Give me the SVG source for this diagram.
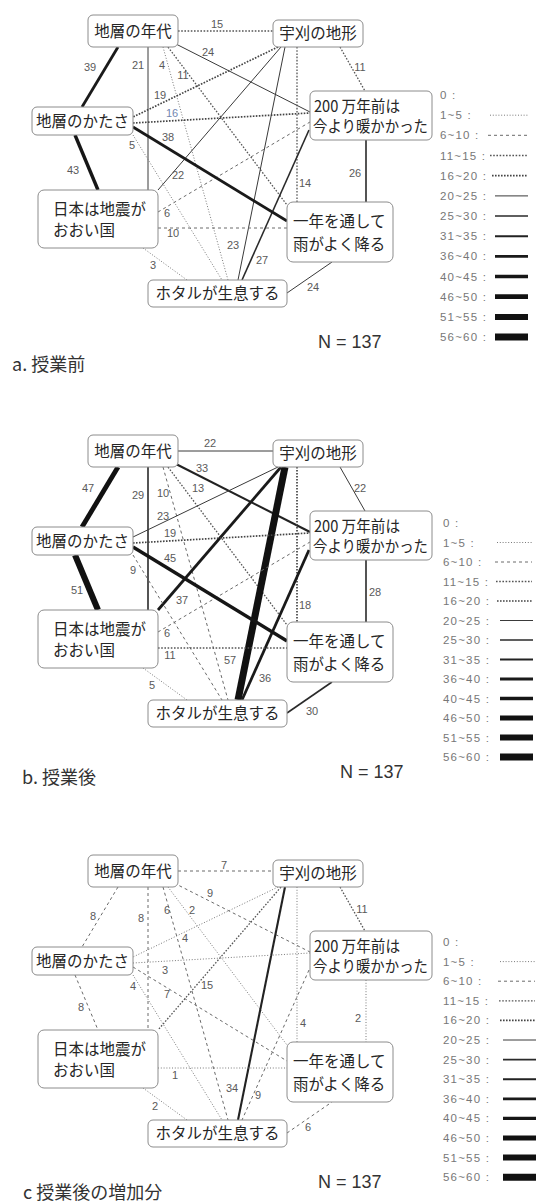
<svg xmlns="http://www.w3.org/2000/svg" width="537" height="1202" viewBox="0 0 537 1202">
<style>
.bg{fill:#fff}
.box{fill:#fff;stroke:#8c8c8c;stroke-width:1}
.nt{font-family:"Noto Sans CJK JP","Noto Sans",sans-serif;font-size:15.5px;fill:#262626}
.el{font-family:"Liberation Sans","Noto Sans",sans-serif;font-size:11px;fill:#5a5a5a;text-anchor:middle}
.blue{fill:#7186b0}
.lg{font-family:"Liberation Sans","Noto Sans",sans-serif;font-size:11.5px;fill:#777;letter-spacing:1.2px}
.cap{font-family:"Noto Sans CJK JP","Noto Sans",sans-serif;font-size:18px;fill:#333}
.nn{font-family:"Liberation Sans","Noto Sans",sans-serif;font-size:18px;fill:#333}
line{fill:none}
.w1{stroke:#7a7a7a;stroke-width:1;stroke-dasharray:1 1.8}
.w2{stroke:#6a6a6a;stroke-width:1;stroke-dasharray:3 3}
.w3{stroke:#555;stroke-width:1.3;stroke-dasharray:1.6 1.6}
.w4{stroke:#444;stroke-width:1.7;stroke-dasharray:1.6 1.4}
.w5{stroke:#3a3a3a;stroke-width:1}
.w6{stroke:#2a2a2a;stroke-width:1.6}
.w7{stroke:#222;stroke-width:2.1}
.w8{stroke:#1a1a1a;stroke-width:2.8}
.w9{stroke:#161616;stroke-width:3.4}
.w10{stroke:#111;stroke-width:4.8}
.w11{stroke:#111;stroke-width:6}
.w12{stroke:#111;stroke-width:7}
</style>
<rect class="bg" x="0" y="0" width="537" height="1202"/>

<!-- ================= PANEL A ================= -->
<g id="panel-a">
<g id="a-connectors">
<line class="w3" x1="178" y1="31" x2="273" y2="31"/>
<line class="w5" x1="174" y1="43" x2="310" y2="112"/>
<line class="w8" x1="118" y1="47" x2="82" y2="107"/>
<line class="w5" x1="148" y1="47" x2="148" y2="190"/>
<line class="w1" x1="163" y1="47" x2="228" y2="280"/>
<line class="w3" x1="168" y1="47" x2="287" y2="205"/>
<line class="w3" x1="340" y1="47" x2="365" y2="91"/>
<line class="w4" x1="278" y1="47" x2="133" y2="117"/>
<line class="w5" x1="281" y1="47" x2="158" y2="190"/>
<line class="w5" x1="285" y1="47" x2="238" y2="280"/>
<line class="w3" x1="297" y1="47" x2="297" y2="202"/>
<line class="w4" x1="133" y1="123" x2="310" y2="113"/>
<line class="w2" x1="158" y1="212" x2="310" y2="122"/>
<line class="w6" x1="309" y1="130" x2="242" y2="280"/>
<line class="w6" x1="366" y1="140" x2="366" y2="202"/>
<line class="w9" x1="75" y1="135" x2="98" y2="190"/>
<line class="w1" x1="133" y1="135" x2="222" y2="280"/>
<line class="w8" x1="133" y1="127" x2="287" y2="221"/>
<line class="w1" x1="143" y1="248" x2="187" y2="280"/>
<line class="w2" x1="158" y1="228" x2="287" y2="228"/>
<line class="w5" x1="287" y1="293" x2="332" y2="262"/>
</g>
<g id="a-edge-labels">
<text class="el" x="217" y="28">15</text>
<text class="el" x="208" y="56">24</text>
<text class="el" x="90" y="71">39</text>
<text class="el" x="138" y="69">21</text>
<text class="el" x="162" y="69">4</text>
<text class="el" x="183" y="79">11</text>
<text class="el" x="360" y="71">11</text>
<text class="el" x="160" y="99">19</text>
<text class="el blue" x="172" y="117">16</text>
<text class="el" x="168" y="141">38</text>
<text class="el" x="132" y="149">5</text>
<text class="el" x="73" y="174">43</text>
<text class="el" x="178" y="179">22</text>
<text class="el" x="355" y="177">26</text>
<text class="el" x="305" y="187">14</text>
<text class="el" x="167" y="217">6</text>
<text class="el" x="173" y="237">10</text>
<text class="el" x="233" y="249">23</text>
<text class="el" x="262" y="264">27</text>
<text class="el" x="153" y="269">3</text>
<text class="el" x="313" y="291">24</text>
</g>
<g id="a-n-nendai"><rect class="box" x="88" y="15" width="90" height="32" rx="5"/><text class="nt" x="133" y="36.5" text-anchor="middle">地層の年代</text></g>
<g id="a-n-ukari"><rect class="box" x="273" y="20" width="90" height="27" rx="5"/><text class="nt" x="318" y="39" text-anchor="middle">宇刈の地形</text></g>
<g id="a-n-200"><rect class="box" x="310" y="91" width="122" height="49" rx="5"/><text class="nt" x="314" y="112" textLength="86" lengthAdjust="spacingAndGlyphs">200 万年前は</text><text class="nt" x="313" y="132" textLength="115" lengthAdjust="spacingAndGlyphs">今より暖かかった</text></g>
<g id="a-n-katasa"><rect class="box" x="32" y="107" width="101" height="28" rx="5"/><text class="nt" x="82.5" y="127" text-anchor="middle">地層のかたさ</text></g>
<g id="a-n-jishin"><rect class="box" x="38" y="190" width="120" height="58" rx="6"/><text class="nt" x="53" y="215">日本は地震が</text><text class="nt" x="53" y="236">おおい国</text></g>
<g id="a-n-ame"><rect class="box" x="287" y="202" width="106" height="60" rx="6"/><text class="nt" x="293" y="227">一年を通して</text><text class="nt" x="293" y="249.5">雨がよく降る</text></g>
<g id="a-n-hotaru"><rect class="box" x="148" y="280" width="139" height="27" rx="5"/><text class="nt" x="217.5" y="299" text-anchor="middle">ホタルが生息する</text></g>
</g>
<text class="nn" x="318" y="348">N = 137</text>
<text class="cap" x="12" y="371">a. 授業前</text>
<g id="a-legend">
<g transform="translate(440,95)"><text class="lg" y="4">0 :</text></g>
<g transform="translate(440,115.2)"><text class="lg" y="4">1~5 :</text><line class="w1" x1="50" x2="88"/></g>
<g transform="translate(440,135.3)"><text class="lg" y="4">6~10 :</text><line class="w2" x1="48" x2="88"/></g>
<g transform="translate(440,155.5)"><text class="lg" y="4">11~15 :</text><line class="w3" x1="50" x2="88"/></g>
<g transform="translate(440,175.7)"><text class="lg" y="4">16~20 :</text><line class="w4" x1="52" x2="88"/></g>
<g transform="translate(440,195.9)"><text class="lg" y="4">20~25 :</text><line class="w5" x1="55" x2="88"/></g>
<g transform="translate(440,216)"><text class="lg" y="4">25~30 :</text><line class="w6" x1="55" x2="88"/></g>
<g transform="translate(440,236.2)"><text class="lg" y="4">31~35 :</text><line class="w7" x1="55" x2="88"/></g>
<g transform="translate(440,256.4)"><text class="lg" y="4">36~40 :</text><line class="w8" x1="55" x2="88"/></g>
<g transform="translate(440,276.5)"><text class="lg" y="4">40~45 :</text><line class="w9" x1="55" x2="88"/></g>
<g transform="translate(440,296.7)"><text class="lg" y="4">46~50 :</text><line class="w10" x1="55" x2="88"/></g>
<g transform="translate(440,316.9)"><text class="lg" y="4">51~55 :</text><line class="w11" x1="55" x2="88"/></g>
<g transform="translate(440,337)"><text class="lg" y="4">56~60 :</text><line class="w12" x1="55" x2="88"/></g>
</g>

<!-- ================= PANEL B ================= -->
<g id="panel-b" transform="translate(0,420)">
<g id="b-connectors">
<line class="w5" x1="178" y1="31" x2="273" y2="31"/>
<line class="w7" x1="174" y1="43" x2="310" y2="112"/>
<line class="w10" x1="118" y1="47" x2="82" y2="107"/>
<line class="w6" x1="148" y1="47" x2="148" y2="190"/>
<line class="w2" x1="163" y1="47" x2="228" y2="280"/>
<line class="w3" x1="168" y1="47" x2="287" y2="205"/>
<line class="w5" x1="340" y1="47" x2="365" y2="91"/>
<line class="w5" x1="278" y1="47" x2="133" y2="117"/>
<line class="w8" x1="281" y1="47" x2="158" y2="190"/>
<line class="w12" x1="285" y1="47" x2="238" y2="280"/>
<line class="w4" x1="297" y1="47" x2="297" y2="202"/>
<line class="w4" x1="133" y1="123" x2="310" y2="113"/>
<line class="w2" x1="158" y1="212" x2="310" y2="122"/>
<line class="w8" x1="309" y1="130" x2="242" y2="280"/>
<line class="w6" x1="366" y1="140" x2="366" y2="202"/>
<line class="w11" x1="75" y1="135" x2="98" y2="190"/>
<line class="w2" x1="133" y1="135" x2="222" y2="280"/>
<line class="w9" x1="133" y1="127" x2="287" y2="221"/>
<line class="w1" x1="143" y1="248" x2="187" y2="280"/>
<line class="w3" x1="158" y1="228" x2="287" y2="228"/>
<line class="w6" x1="287" y1="293" x2="332" y2="262"/>
</g>
<g id="b-edge-labels">
<text class="el" x="210" y="27">22</text>
<text class="el" x="202" y="52">33</text>
<text class="el" x="88" y="72">47</text>
<text class="el" x="138" y="79">29</text>
<text class="el" x="163" y="77">10</text>
<text class="el" x="198" y="72">13</text>
<text class="el" x="360" y="72">22</text>
<text class="el" x="163" y="100">23</text>
<text class="el" x="170" y="117">19</text>
<text class="el" x="170" y="142">45</text>
<text class="el" x="133" y="154">9</text>
<text class="el" x="77" y="174">51</text>
<text class="el" x="375" y="176">28</text>
<text class="el" x="182" y="184">37</text>
<text class="el" x="305" y="189">18</text>
<text class="el" x="167" y="217">6</text>
<text class="el" x="170" y="239">11</text>
<text class="el" x="230" y="244">57</text>
<text class="el" x="265" y="262">36</text>
<text class="el" x="152" y="269">5</text>
<text class="el" x="312" y="295">30</text>
</g>
<g id="b-n-nendai"><rect class="box" x="88" y="15" width="90" height="32" rx="5"/><text class="nt" x="133" y="36.5" text-anchor="middle">地層の年代</text></g>
<g id="b-n-ukari"><rect class="box" x="273" y="20" width="90" height="27" rx="5"/><text class="nt" x="318" y="39" text-anchor="middle">宇刈の地形</text></g>
<g id="b-n-200"><rect class="box" x="310" y="91" width="122" height="49" rx="5"/><text class="nt" x="314" y="112" textLength="86" lengthAdjust="spacingAndGlyphs">200 万年前は</text><text class="nt" x="313" y="132" textLength="115" lengthAdjust="spacingAndGlyphs">今より暖かかった</text></g>
<g id="b-n-katasa"><rect class="box" x="32" y="107" width="101" height="28" rx="5"/><text class="nt" x="82.5" y="127" text-anchor="middle">地層のかたさ</text></g>
<g id="b-n-jishin"><rect class="box" x="38" y="190" width="120" height="58" rx="6"/><text class="nt" x="53" y="215">日本は地震が</text><text class="nt" x="53" y="236">おおい国</text></g>
<g id="b-n-ame"><rect class="box" x="287" y="202" width="106" height="60" rx="6"/><text class="nt" x="293" y="227">一年を通して</text><text class="nt" x="293" y="249.5">雨がよく降る</text></g>
<g id="b-n-hotaru"><rect class="box" x="148" y="280" width="139" height="27" rx="5"/><text class="nt" x="217.5" y="299" text-anchor="middle">ホタルが生息する</text></g>
</g>
<text class="nn" x="340" y="778">N = 137</text>
<text class="cap" x="22" y="784">b. 授業後</text>
<g id="b-legend">
<g transform="translate(443,523)"><text class="lg" y="4">0 :</text></g>
<g transform="translate(443,542.5)"><text class="lg" y="4">1~5 :</text><line class="w1" x1="54" x2="89"/></g>
<g transform="translate(443,562)"><text class="lg" y="4">6~10 :</text><line class="w2" x1="52" x2="89"/></g>
<g transform="translate(443,581.5)"><text class="lg" y="4">11~15 :</text><line class="w3" x1="53" x2="89"/></g>
<g transform="translate(443,601)"><text class="lg" y="4">16~20 :</text><line class="w4" x1="54" x2="89"/></g>
<g transform="translate(443,620.5)"><text class="lg" y="4">20~25 :</text><line class="w5" x1="57" x2="90"/></g>
<g transform="translate(443,640)"><text class="lg" y="4">25~30 :</text><line class="w6" x1="57" x2="90"/></g>
<g transform="translate(443,659.5)"><text class="lg" y="4">31~35 :</text><line class="w7" x1="57" x2="90"/></g>
<g transform="translate(443,679)"><text class="lg" y="4">36~40 :</text><line class="w8" x1="57" x2="90"/></g>
<g transform="translate(443,698.5)"><text class="lg" y="4">40~45 :</text><line class="w9" x1="57" x2="90"/></g>
<g transform="translate(443,718)"><text class="lg" y="4">46~50 :</text><line class="w10" x1="57" x2="90"/></g>
<g transform="translate(443,737.5)"><text class="lg" y="4">51~55 :</text><line class="w11" x1="57" x2="90"/></g>
<g transform="translate(443,757)"><text class="lg" y="4">56~60 :</text><line class="w12" x1="57" x2="90"/></g>
</g>

<!-- ================= PANEL C ================= -->
<g id="panel-c" transform="translate(0,840)">
<g id="c-connectors">
<line class="w2" x1="178" y1="31" x2="273" y2="31"/>
<line class="w2" x1="174" y1="43" x2="310" y2="112"/>
<line class="w2" x1="118" y1="47" x2="82" y2="107"/>
<line class="w2" x1="148" y1="47" x2="148" y2="190"/>
<line class="w2" x1="163" y1="47" x2="228" y2="280"/>
<line class="w1" x1="168" y1="47" x2="287" y2="205"/>
<line class="w3" x1="340" y1="47" x2="365" y2="91"/>
<line class="w1" x1="278" y1="47" x2="133" y2="117"/>
<line class="w3" x1="281" y1="47" x2="158" y2="190"/>
<line class="w7" x1="285" y1="47" x2="238" y2="280"/>
<line class="w1" x1="297" y1="47" x2="297" y2="202"/>
<line class="w1" x1="133" y1="123" x2="310" y2="113"/>
<line class="w2" x1="309" y1="130" x2="242" y2="280"/>
<line class="w1" x1="366" y1="140" x2="366" y2="202"/>
<line class="w2" x1="75" y1="135" x2="98" y2="190"/>
<line class="w1" x1="133" y1="135" x2="222" y2="280"/>
<line class="w2" x1="133" y1="127" x2="287" y2="221"/>
<line class="w1" x1="143" y1="248" x2="187" y2="280"/>
<line class="w1" x1="158" y1="228" x2="287" y2="228"/>
<line class="w2" x1="287" y1="293" x2="332" y2="262"/>
</g>
<g id="c-edge-labels">
<text class="el" x="224" y="29">7</text>
<text class="el" x="210" y="57">9</text>
<text class="el" x="93" y="80">8</text>
<text class="el" x="141" y="82">8</text>
<text class="el" x="167" y="74">6</text>
<text class="el" x="192" y="74">2</text>
<text class="el" x="362" y="73">11</text>
<text class="el" x="185" y="102">4</text>
<text class="el" x="165" y="134">3</text>
<text class="el" x="207" y="149">15</text>
<text class="el" x="133" y="150">4</text>
<text class="el" x="167" y="158">7</text>
<text class="el" x="81" y="171">8</text>
<text class="el" x="303" y="187">4</text>
<text class="el" x="358" y="182">2</text>
<text class="el" x="175" y="239">1</text>
<text class="el" x="232" y="252">34</text>
<text class="el" x="258" y="259">9</text>
<text class="el" x="155" y="270">2</text>
<text class="el" x="308" y="291">6</text>
</g>
<g id="c-n-nendai"><rect class="box" x="88" y="15" width="90" height="32" rx="5"/><text class="nt" x="133" y="36.5" text-anchor="middle">地層の年代</text></g>
<g id="c-n-ukari"><rect class="box" x="273" y="20" width="90" height="27" rx="5"/><text class="nt" x="318" y="39" text-anchor="middle">宇刈の地形</text></g>
<g id="c-n-200"><rect class="box" x="310" y="91" width="122" height="49" rx="5"/><text class="nt" x="314" y="112" textLength="86" lengthAdjust="spacingAndGlyphs">200 万年前は</text><text class="nt" x="313" y="132" textLength="115" lengthAdjust="spacingAndGlyphs">今より暖かかった</text></g>
<g id="c-n-katasa"><rect class="box" x="32" y="107" width="101" height="28" rx="5"/><text class="nt" x="82.5" y="127" text-anchor="middle">地層のかたさ</text></g>
<g id="c-n-jishin"><rect class="box" x="38" y="190" width="120" height="58" rx="6"/><text class="nt" x="53" y="215">日本は地震が</text><text class="nt" x="53" y="236">おおい国</text></g>
<g id="c-n-ame"><rect class="box" x="287" y="202" width="106" height="60" rx="6"/><text class="nt" x="293" y="227">一年を通して</text><text class="nt" x="293" y="249.5">雨がよく降る</text></g>
<g id="c-n-hotaru"><rect class="box" x="148" y="280" width="139" height="27" rx="5"/><text class="nt" x="217.5" y="299" text-anchor="middle">ホタルが生息する</text></g>
</g>
<text class="nn" x="318" y="1188">N = 137</text>
<text class="cap" x="23" y="1199">c 授業後の増加分</text>
<g id="c-legend">
<g transform="translate(443,942)"><text class="lg" y="4">0 :</text></g>
<g transform="translate(443,961.6)"><text class="lg" y="4">1~5 :</text><line class="w1" x1="57" x2="92"/></g>
<g transform="translate(443,981.2)"><text class="lg" y="4">6~10 :</text><line class="w2" x1="55" x2="92"/></g>
<g transform="translate(443,1000.8)"><text class="lg" y="4">11~15 :</text><line class="w3" x1="56" x2="92"/></g>
<g transform="translate(443,1020.4)"><text class="lg" y="4">16~20 :</text><line class="w4" x1="57" x2="92"/></g>
<g transform="translate(443,1040)"><text class="lg" y="4">20~25 :</text><line class="w5" x1="60" x2="93"/></g>
<g transform="translate(443,1059.6)"><text class="lg" y="4">25~30 :</text><line class="w6" x1="60" x2="93"/></g>
<g transform="translate(443,1079.2)"><text class="lg" y="4">31~35 :</text><line class="w7" x1="60" x2="93"/></g>
<g transform="translate(443,1098.8)"><text class="lg" y="4">36~40 :</text><line class="w8" x1="60" x2="93"/></g>
<g transform="translate(443,1118.4)"><text class="lg" y="4">40~45 :</text><line class="w9" x1="60" x2="93"/></g>
<g transform="translate(443,1138)"><text class="lg" y="4">46~50 :</text><line class="w10" x1="60" x2="93"/></g>
<g transform="translate(443,1157.6)"><text class="lg" y="4">51~55 :</text><line class="w11" x1="60" x2="93"/></g>
<g transform="translate(443,1177.2)"><text class="lg" y="4">56~60 :</text><line class="w12" x1="60" x2="93"/></g>
</g>
</svg>
